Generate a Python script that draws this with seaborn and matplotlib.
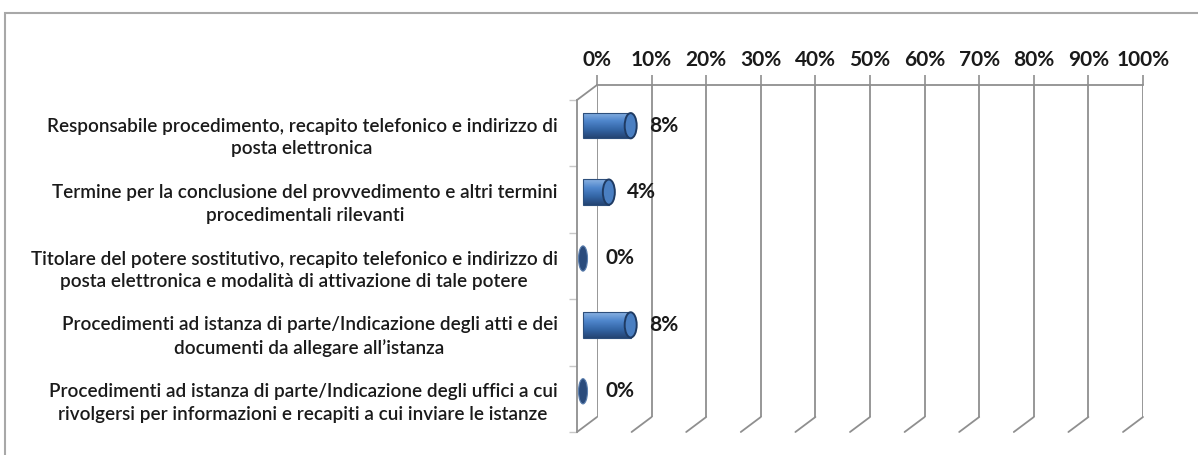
import numpy as np
import pandas as pd
import seaborn as sns
import matplotlib.pyplot as plt
from matplotlib.patches import Ellipse, Rectangle
from matplotlib.lines import Line2D
from matplotlib.transforms import ScaledTranslation, IdentityTransform

sns.set_theme(style="white")
plt.rcParams['font.family'] = ['Lato', 'DejaVu Sans']

categories = [
    "Responsabile procedimento, recapito telefonico e indirizzo di\nposta elettronica",
    "Termine per la conclusione del provvedimento e altri termini\nprocedimentali rilevanti",
    "Titolare del potere sostitutivo, recapito telefonico e indirizzo di\nposta elettronica e modalità di attivazione di tale potere",
    "Procedimenti ad istanza di parte/Indicazione degli atti e dei\ndocumenti da allegare all’istanza",
    "Procedimenti ad istanza di parte/Indicazione degli uffici a cui\nrivolgersi per informazioni e recapiti a cui inviare le istanze",
]
values = [0.08, 0.04, 0.0, 0.08, 0.0]
ticks = [i / 10 for i in range(11)]
tick_labels = [f"{i * 10}%" for i in range(11)]

df = pd.DataFrame({"cat": categories, "val": values})

DPI = 100
W, H = 1198, 455
fig = plt.figure(figsize=(W / DPI, H / DPI), dpi=DPI)

# 3d depth offset in pixels (front -> back)
DX, DY = 20, 15

fl, fr, ft, fb = 577, 1123, 100, 432
front_rect = [fl / W, (H - fb) / H, (fr - fl) / W, (fb - ft) / H]
back_rect = [(fl + DX) / W, (H - fb + DY) / H, (fr - fl) / W, (fb - ft) / H]

grid_col = "#8f8f8f"

# back wall
axb = fig.add_axes(back_rect, zorder=0)
axb.set_xlim(0, 1)
axb.set_ylim(0, 1)
axb.set_xticks(ticks)
axb.set_xticklabels(tick_labels, fontsize=15, fontweight="bold", color="#1a1a1a")
axb.xaxis.tick_top()
axb.tick_params(axis="x", length=7, width=1.2, color=grid_col, pad=4, top=True, bottom=False)
axb.set_yticks([])
axb.grid(axis="x", color=grid_col, lw=1.3)
for s in ["left", "right", "bottom"]:
    axb.spines[s].set_visible(False)
axb.spines["top"].set_color(grid_col)
axb.spines["top"].set_linewidth(1.3)

# front plane with bars
ax = fig.add_axes(front_rect, zorder=1)
ax.patch.set_alpha(0)
sns.barplot(data=df, x="val", y="cat", orient="h", ax=ax, color="#4f81bd", width=0.38)
ax.set_xlim(0, 1)
ax.set_ylim(len(categories) - 0.5, -0.5)
ax.set_xlabel("")
ax.set_ylabel("")
ax.set_xticks([])
ax.set_yticks(range(len(categories)))
ax.set_yticklabels(categories, fontsize=13.6, fontweight="semibold", color="#1a1a1a",
                   ha="right", multialignment="center", linespacing=1.4)
ax.set_yticks(np.arange(-0.5, len(categories), 1), minor=True)
ax.tick_params(axis="y", which="major", length=0, pad=14)
ax.tick_params(axis="y", which="minor", length=6, width=1, color="#c8c8c8", left=True)
for s in ["top", "right", "bottom"]:
    ax.spines[s].set_visible(False)
ax.spines["left"].set_color(grid_col)
ax.spines["left"].set_linewidth(1.3)

mid = ax.transData + ScaledTranslation(DX / 2 / DPI, DY / 2 / DPI, fig.dpi_scale_trans)

# cylinder look for the bars
grad = np.linspace(0, 1, 64).reshape(-1, 1)
cmap = plt.matplotlib.colors.LinearSegmentedColormap.from_list(
    "cyl", ["#8ab2e2", "#4f86cc", "#3466a6", "#244473"])
px = (fr - fl)
for p in list(ax.patches):
    x0, y0 = p.get_x(), p.get_y()
    w, h = p.get_width(), p.get_height()
    p.set_transform(mid)
    p.set_visible(False)
    yc = y0 + h / 2
    if w > 0:
        im = ax.imshow(grad, cmap=cmap, aspect="auto", extent=(x0 - 4 / px, x0 + w, y0 + h, y0),
                       transform=mid, zorder=2)
        body = Rectangle((x0 - 4 / px, y0), w + 4 / px, h, transform=mid, fill=False,
                         ec="#2d4f7c", lw=0.8, zorder=3)
        ax.add_patch(body)
        im.set_clip_path(body)
        ax.add_patch(Ellipse((x0 + w, yc), 12 / px, h, transform=mid, fc="#4a7fc2",
                             ec="#1f3b63", lw=1.4, zorder=4))
    else:
        ax.add_patch(Ellipse((x0 - 4 / px, yc), 9 / px, h, transform=mid, fc="#2a4b7c",
                             ec="#5c7fae", lw=0.8, zorder=4))
ax.set_xlim(0, 1)
ax.set_ylim(len(categories) - 0.5, -0.5)

for i, v in enumerate(values):
    ax.annotate(f"{v:.0%}", (v, i), xycoords=mid, xytext=(13, 0), textcoords="offset points",
                ha="left", va="center", fontsize=15, fontweight="bold", color="#1a1a1a")

# depth lines (floor, left wall top)
fig.canvas.draw()
for t in ticks:
    p0 = ax.transData.transform((t, len(categories) - 0.5))
    fig.add_artist(Line2D([p0[0], p0[0] + DX], [p0[1], p0[1] + DY], transform=IdentityTransform(),
                          color=grid_col, lw=1.3))
p0 = ax.transData.transform((0, -0.5))
fig.add_artist(Line2D([p0[0], p0[0] + DX], [p0[1], p0[1] + DY], transform=IdentityTransform(),
                      color=grid_col, lw=1.3))

# outer frame
fig.add_artist(Rectangle((5 / W, -0.1), 1.2, (H - 13) / H + 0.1, transform=fig.transFigure,
                         fill=False, ec="#a8a8a8", lw=1.5))

fig.savefig("out.png", dpi=DPI)
